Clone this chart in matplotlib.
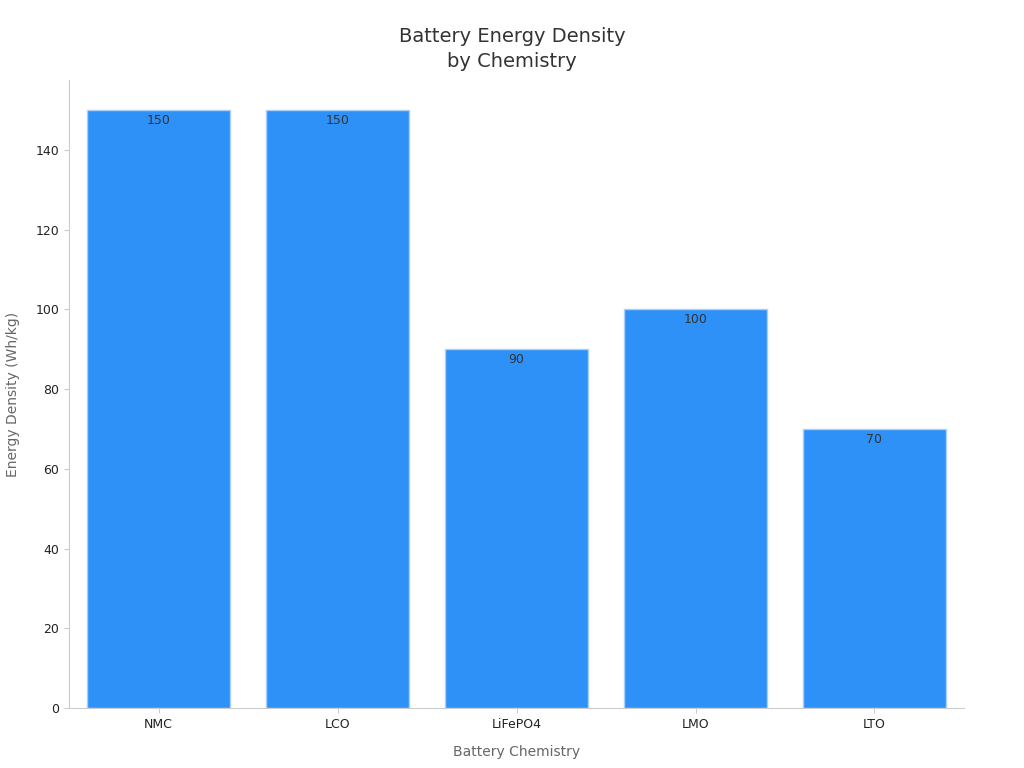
import matplotlib
matplotlib.use("Agg")
import matplotlib.pyplot as plt

chemistries = ["NMC", "LCO", "LiFePO4", "LMO", "LTO"]
energy_density = [150, 150, 90, 100, 70]

fig = plt.figure(figsize=(10.24, 7.68), dpi=100)
ax = fig.add_axes([0.0674, 0.078, 0.874, 0.8178])

bars = ax.bar(chemistries, energy_density, width=0.8, color="#2e91f8",
              edgecolor="#a9d0fb", linewidth=1)

# value labels just inside the top of each bar
for rect, val in zip(bars, energy_density):
    ax.annotate(f"{val}", (rect.get_x() + rect.get_width() / 2, val),
                xytext=(0, -3), textcoords="offset points",
                ha="center", va="top", fontsize=9, color="#333333")

ax.set_xlim(-0.5, 4.5)
ax.set_ylim(0, 157.5)
ax.set_yticks(range(0, 141, 20))

for side in ["top", "right"]:
    ax.spines[side].set_visible(False)
for side in ["left", "bottom"]:
    ax.spines[side].set_color("#cccccc")
ax.tick_params(colors="#cccccc", labelcolor="#222222", labelsize=9)

ax.set_xlabel("Battery Chemistry", fontsize=10, color="#666666", labelpad=10)
ax.set_ylabel("Energy Density (Wh/kg)", fontsize=10, color="#666666", labelpad=11)
fig.suptitle("Battery Energy Density\nby Chemistry", fontsize=14, color="#333333",
             y=0.965, linespacing=1.4)

fig.savefig("out.png", dpi=100)
